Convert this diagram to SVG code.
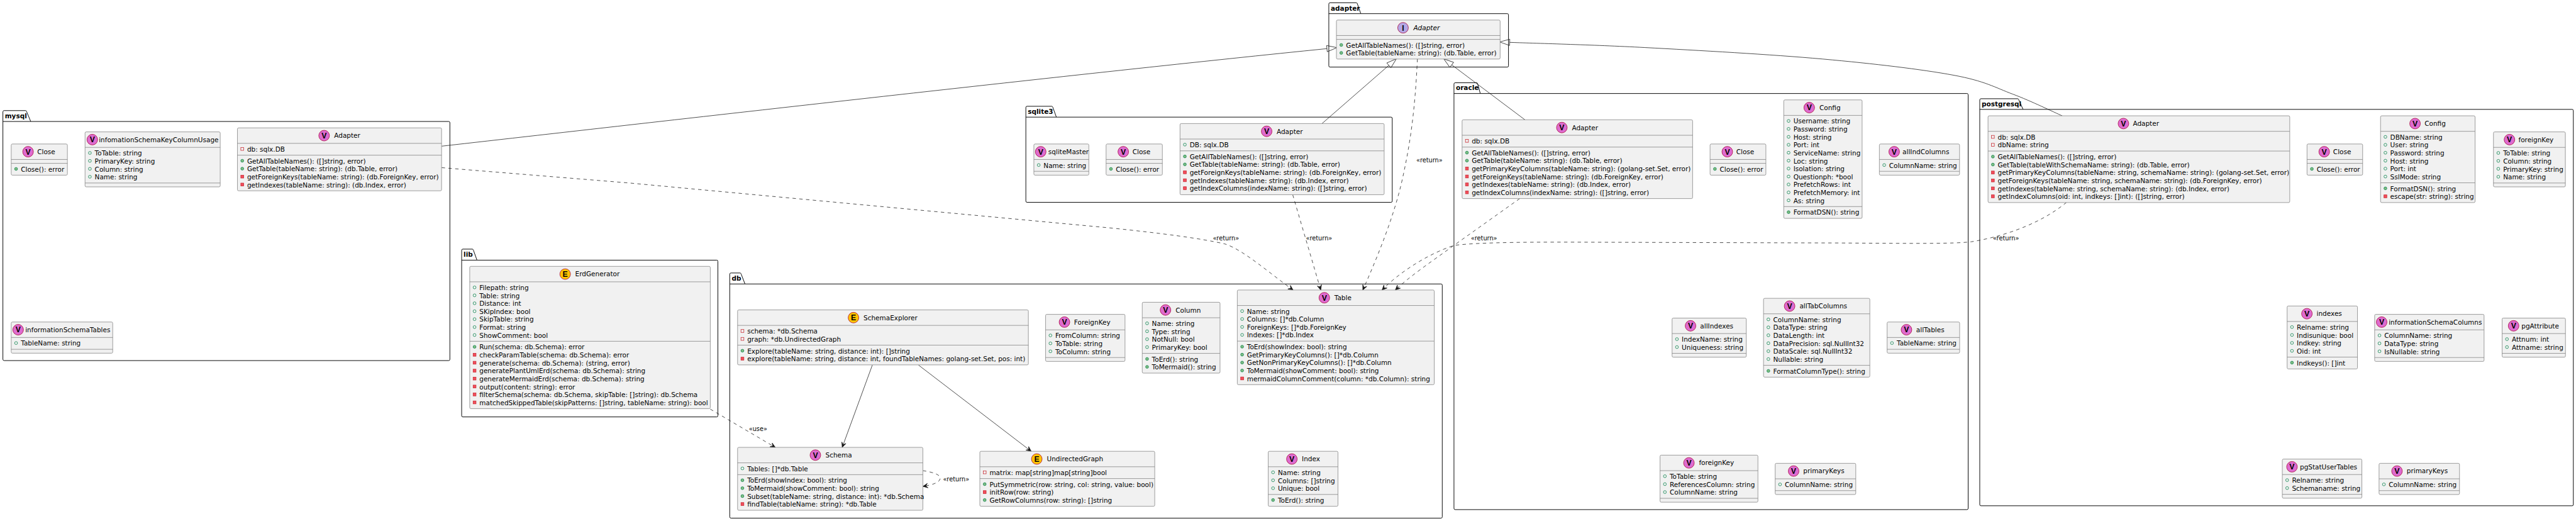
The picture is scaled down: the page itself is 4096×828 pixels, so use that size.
<svg xmlns="http://www.w3.org/2000/svg" width="4096" height="828" viewBox="0 0 4096 828">
<style>
text{font-family:"DejaVu Sans",sans-serif;font-size:13.65px;fill:#000}
.pk{fill:none;stroke:#000;stroke-width:1.25}
.pl{font-weight:bold}
.bx{fill:#F1F1F1;stroke:#808080;stroke-width:1}
.sp{stroke:#808080;stroke-width:1}
.cv,.ce,.ci{stroke:#A80036;stroke-width:1}
.cv{fill:#DE6BD0}.ce{fill:#FFC400}.ci{fill:#B4A7E5}
text.lt{font-family:"Liberation Sans",sans-serif;font-size:16px;font-weight:bold;text-anchor:middle}
.it{font-style:italic}
text.lb{font-size:12.7px}
.so,.da{fill:none;stroke:#181818;stroke-width:1}
.da{stroke-dasharray:7,7}
.ar{marker-end:url(#open)}
.ex{marker-end:url(#tri)}
</style>
<defs>
<marker id="open" markerUnits="userSpaceOnUse" markerWidth="24" markerHeight="24" refX="12" refY="12" orient="auto" viewBox="0 0 24 24"><path d="M12,12 L2,7.5 L6,12 L2,16.5 Z" fill="#181818" stroke="#181818" stroke-width="1"/></marker>
<marker id="tri" markerUnits="userSpaceOnUse" markerWidth="26" markerHeight="20" refX="2" refY="10" orient="auto" viewBox="0 0 26 20"><path d="M2,3.5 L22.7,10 L2,16.5 Z" fill="none" stroke="#181818" stroke-width="1"/></marker>
<circle id="fu" r="3" fill="none" stroke="#038048"/>
<circle id="mu" r="3" fill="#84BE84" stroke="#038048"/>
<rect id="fr" x="-3" y="-3" width="6" height="6" fill="none" stroke="#C82930"/>
<rect id="mr" x="-3" y="-3" width="6" height="6" fill="#F24D5C" stroke="#C82930"/>
</defs>
<g transform="scale(0.7692)">
<g id="packages">
<g id="pkg-mysql"><path class="pk" d="M6,231 a2.5,2.5 0 0 1 2.5,-2.5 H53 a2.5,2.5 0 0 1 2,2 L63.5,251 H927.5 a2.5,2.5 0 0 1 2.5,2.5 V742.5 a2.5,2.5 0 0 1 -2.5,2.5 H8.5 a2.5,2.5 0 0 1 -2.5,-2.5 Z M6,251 H63.5"/><text class="pl" x="10" y="244.3">mysql</text></g>
<g id="pkg-lib"><path class="pk" d="M954.3,517.2 a2.5,2.5 0 0 1 2.5,-2.5 H976.5 a2.5,2.5 0 0 1 2,2 L986,537.5 H1481.5 a2.5,2.5 0 0 1 2.5,2.5 V858.9 a2.5,2.5 0 0 1 -2.5,2.5 H956.8 a2.5,2.5 0 0 1 -2.5,-2.5 Z M954.3,537.5 H986"/><text class="pl" x="958.3" y="530.8">lib</text></g>
<g id="pkg-db"><path class="pk" d="M1508.5,566.5 a2.5,2.5 0 0 1 2.5,-2.5 H1530 a2.5,2.5 0 0 1 2,2 L1540,586.7 H2978.9 a2.5,2.5 0 0 1 2.5,2.5 V1068 a2.5,2.5 0 0 1 -2.5,2.5 H1511 a2.5,2.5 0 0 1 -2.5,-2.5 Z M1508.5,586.7 H1540"/><text class="pl" x="1512.5" y="580">db</text></g>
<g id="pkg-sqlite3"><path class="pk" d="M2120.6,222.1 a2.5,2.5 0 0 1 2.5,-2.5 H2174.3 a2.5,2.5 0 0 1 2,2 L2183.7,242 H2875.5 a2.5,2.5 0 0 1 2.5,2.5 V415.5 a2.5,2.5 0 0 1 -2.5,2.5 H2123.1 a2.5,2.5 0 0 1 -2.5,-2.5 Z M2120.6,242 H2183.7"/><text class="pl" x="2124.6" y="235.3">sqlite3</text></g>
<g id="pkg-adapter"><path class="pk" d="M2746.9,8.2 a2.5,2.5 0 0 1 2.5,-2.5 H2803.8 a2.5,2.5 0 0 1 2,2 L2813,28.2 H3115.8 a2.5,2.5 0 0 1 2.5,2.5 V136.1 a2.5,2.5 0 0 1 -2.5,2.5 H2749.4 a2.5,2.5 0 0 1 -2.5,-2.5 Z M2746.9,28.2 H2813"/><text class="pl" x="2750.9" y="21.5">adapter</text></g>
<g id="pkg-oracle"><path class="pk" d="M3005.6,173.5 a2.5,2.5 0 0 1 2.5,-2.5 H3052.5 a2.5,2.5 0 0 1 2,2 L3060,193.2 H4066 a2.5,2.5 0 0 1 2.5,2.5 V1050.4 a2.5,2.5 0 0 1 -2.5,2.5 H3008.1 a2.5,2.5 0 0 1 -2.5,-2.5 Z M3005.6,193.2 H3060"/><text class="pl" x="3009.6" y="186.5">oracle</text></g>
<g id="pkg-postgresql"><path class="pk" d="M4092.5,206.5 a2.5,2.5 0 0 1 2.5,-2.5 H4171 a2.5,2.5 0 0 1 2,2 L4182,226 H5317 a2.5,2.5 0 0 1 2.5,2.5 V1042.5 a2.5,2.5 0 0 1 -2.5,2.5 H4095 a2.5,2.5 0 0 1 -2.5,-2.5 Z M4092.5,226 H4182"/><text class="pl" x="4096.5" y="219.3">postgresql</text></g>
</g>
<g id="connectors">
<path class="so ex" d="M913,302 C1400,247 2250,150 2743,100.5"/>
<path class="so ex" d="M2732.8,255.3 L2871,135"/>
<path class="so ex" d="M3152.3,247.5 L3001,134"/>
<path class="so ex" d="M4263,239.3 C4246,232 4198.5,208.6 4161,194.6 C4123.5,180.6 4103.5,167.4 4038,155.3 C3972.5,143.2 3874,131.5 3768,122 C3662,112.5 3508,104 3400,98.2 C3292,92.5 3167,89.3 3120.8,87.5"/>
<path class="da ar" d="M913,346.4 L1300,378 L2300,471.4 C2400,482 2480,492 2532,504 C2570,516 2625,565 2673,599.2"/>
<path class="da ar" d="M2672.3,402.5 L2730.2,599.2"/>
<path class="da ar" d="M2930,121.4 C2925,230 2915,300 2897,378.5 C2880,450 2850,525 2817.2,599.2"/>
<path class="da ar" d="M3141.5,410.3 L3004,508 C2960,540 2915,570 2884.4,599.2"/>
<path class="da ar" d="M4271.7,418.2 C4215,465 4135,490 4075,499.5 C4040,504 3950,503 3800,502 L3300,500.5 C3180,500 3060,500 3006,507 C2950,525 2890,565 2857,599.2"/>
<path class="so ar" d="M1803.3,754.2 L1741,924.3"/>
<path class="so ar" d="M1898.6,754.2 L2131.6,932.4"/>
<path class="da ar" d="M1468.3,845.3 L1602.6,924.3"/>
<path class="da ar" d="M1907.8,972.4 C1925,975 1945,980 1943.5,988.6 C1942,998 1925,1002 1907.8,1005"/>
<text class="lb" x="2507" y="496.5">«return»</text>
<text class="lb" x="2699.6" y="496.5">«return»</text>
<text class="lb" x="2927.7" y="335">«return»</text>
<text class="lb" x="3040.6" y="496.5">«return»</text>
<text class="lb" x="4119.4" y="496.5">«return»</text>
<text class="lb" x="1548" y="891">«use»</text>
<text class="lb" x="1949.3" y="994.5">«return»</text>
</g>

<g id="mysql-close" transform="translate(23.2,297.5)"><rect class="bx" width="116.1" height="64.4" rx="2.5"/><path class="sp" d="M0,32 H116.1 M0,40 H116.1"/><circle class="cv" cx="34.8" cy="16" r="11"/><text class="lt" x="34.8" y="21.7">V</text><text x="53.8" y="21">Close</text><g transform="translate(0,40)"><use href="#mu" x="10" y="11.5"/><text x="20" y="17">Close(): error</text></g></g>

<g id="mysql-keycolumnusage" transform="translate(175.8,272.5)"><rect class="bx" width="279.4" height="113.6" rx="2.5"/><path class="sp" d="M0,32 H279.4 M0,105.6 H279.4"/><circle class="cv" cx="15" cy="16" r="11"/><text class="lt" x="15" y="21.7">V</text><text x="28.5" y="21">infomationSchemaKeyColumnUsage</text><g transform="translate(0,32)"><use href="#fu" x="10" y="11.5"/><text x="20" y="17">ToTable: string</text><use href="#fu" x="10" y="27.9"/><text x="20" y="33.4">PrimaryKey: string</text><use href="#fu" x="10" y="44.3"/><text x="20" y="49.8">Column: string</text><use href="#fu" x="10" y="60.7"/><text x="20" y="66.2">Name: string</text></g></g>

<g id="mysql-adapter" transform="translate(490.8,264.2)"><rect class="bx" width="422" height="130" rx="2.5"/><path class="sp" d="M0,32 H422 M0,56.4 H422"/><circle class="cv" cx="179.2" cy="16" r="11"/><text class="lt" x="179.2" y="21.7">V</text><text x="199.9" y="21">Adapter</text><g transform="translate(0,32)"><use href="#fr" x="10" y="11.5"/><text x="20" y="17">db: sqlx.DB</text></g><g transform="translate(0,56.4)"><use href="#mu" x="10" y="11.5"/><text x="20" y="17">GetAllTableNames(): ([]string, error)</text><use href="#mu" x="10" y="27.9"/><text x="20" y="33.4">GetTable(tableName: string): (db.Table, error)</text><use href="#mr" x="10" y="44.3"/><text x="20" y="49.8">getForeignKeys(tableName: string): (db.ForeignKey, error)</text><use href="#mr" x="10" y="60.7"/><text x="20" y="66.2">getIndexes(tableName: string): (db.Index, error)</text></g></g>

<g id="mysql-tables" transform="translate(23.2,665.3)"><rect class="bx" width="209.8" height="64.4" rx="2.5"/><path class="sp" d="M0,32 H209.8 M0,56.4 H209.8"/><circle class="cv" cx="14.3" cy="16" r="11"/><text class="lt" x="14.3" y="21.7">V</text><text x="29" y="21">informationSchemaTables</text><g transform="translate(0,32)"><use href="#fu" x="10" y="11.5"/><text x="20" y="17">TableName: string</text></g></g>

<g id="lib-erdgenerator" transform="translate(971,550.3)"><rect class="bx" width="497.3" height="294" rx="2.5"/><path class="sp" d="M0,32 H497.3 M0,154.8 H497.3"/><circle class="ce" cx="197.3" cy="16" r="11"/><text class="lt" x="197.3" y="21.7">E</text><text x="218" y="21">ErdGenerator</text><g transform="translate(0,32)"><use href="#fu" x="10" y="11.5"/><text x="20" y="17">Filepath: string</text><use href="#fu" x="10" y="27.9"/><text x="20" y="33.4">Table: string</text><use href="#fu" x="10" y="44.3"/><text x="20" y="49.8">Distance: int</text><use href="#fu" x="10" y="60.7"/><text x="20" y="66.2">SKipIndex: bool</text><use href="#fu" x="10" y="77.1"/><text x="20" y="82.6">SkipTable: string</text><use href="#fu" x="10" y="93.5"/><text x="20" y="99">Format: string</text><use href="#fu" x="10" y="109.9"/><text x="20" y="115.4">ShowComment: bool</text></g><g transform="translate(0,154.8)"><use href="#mu" x="10" y="11.5"/><text x="20" y="17">Run(schema: db.Schema): error</text><use href="#mr" x="10" y="27.9"/><text x="20" y="33.4">checkParamTable(schema: db.Schema): error</text><use href="#mr" x="10" y="44.3"/><text x="20" y="49.8">generate(schema: db.Schema): (string, error)</text><use href="#mr" x="10" y="60.7"/><text x="20" y="66.2">generatePlantUmlErd(schema: db.Schema): string</text><use href="#mr" x="10" y="77.1"/><text x="20" y="82.6">generateMermaidErd(schema: db.Schema): string</text><use href="#mr" x="10" y="93.5"/><text x="20" y="99">output(content: string): error</text><use href="#mr" x="10" y="109.9"/><text x="20" y="115.4">filterSchema(schema: db.Schema, skipTable: []string): db.Schema</text><use href="#mr" x="10" y="126.3"/><text x="20" y="131.8">matchedSkippedTable(skipPatterns: []string, tableName: string): bool</text></g></g>

<g id="db-schemaexplorer" transform="translate(1524.7,640.3)"><rect class="bx" width="601.1" height="113.6" rx="2.5"/><path class="sp" d="M0,32 H601.1 M0,72.8 H601.1"/><circle class="ce" cx="239.6" cy="16" r="11"/><text class="lt" x="239.6" y="21.7">E</text><text x="260.3" y="21">SchemaExplorer</text><g transform="translate(0,32)"><use href="#fr" x="10" y="11.5"/><text x="20" y="17">schema: *db.Schema</text><use href="#fr" x="10" y="27.9"/><text x="20" y="33.4">graph: *db.UndirectedGraph</text></g><g transform="translate(0,72.8)"><use href="#mu" x="10" y="11.5"/><text x="20" y="17">Explore(tableName: string, distance: int): []string</text><use href="#mr" x="10" y="27.9"/><text x="20" y="33.4">explore(tableName: string, distance: int, foundTableNames: golang-set.Set, pos: int)</text></g></g>

<g id="db-foreignkey" transform="translate(2161.4,649.5)"><rect class="bx" width="164.2" height="97.2" rx="2.5"/><path class="sp" d="M0,32 H164.2 M0,89.2 H164.2"/><circle class="cv" cx="39" cy="16" r="11"/><text class="lt" x="39" y="21.7">V</text><text x="58.9" y="21">ForeignKey</text><g transform="translate(0,32)"><use href="#fu" x="10" y="11.5"/><text x="20" y="17">FromColumn: string</text><use href="#fu" x="10" y="27.9"/><text x="20" y="33.4">ToTable: string</text><use href="#fu" x="10" y="44.3"/><text x="20" y="49.8">ToColumn: string</text></g></g>

<g id="db-column" transform="translate(2361.2,624.5)"><rect class="bx" width="160.8" height="146.4" rx="2.5"/><path class="sp" d="M0,32 H160.8 M0,105.6 H160.8"/><circle class="cv" cx="48.1" cy="16" r="11"/><text class="lt" x="48.1" y="21.7">V</text><text x="68.8" y="21">Column</text><g transform="translate(0,32)"><use href="#fu" x="10" y="11.5"/><text x="20" y="17">Name: string</text><use href="#fu" x="10" y="27.9"/><text x="20" y="33.4">Type: string</text><use href="#fu" x="10" y="44.3"/><text x="20" y="49.8">NotNull: bool</text><use href="#fu" x="10" y="60.7"/><text x="20" y="66.2">PrimaryKey: bool</text></g><g transform="translate(0,105.6)"><use href="#mu" x="10" y="11.5"/><text x="20" y="17">ToErd(): string</text><use href="#mu" x="10" y="27.9"/><text x="20" y="33.4">ToMermaid(): string</text></g></g>

<g id="db-table" transform="translate(2557.7,599.2)"><rect class="bx" width="407.1" height="195.6" rx="2.5"/><path class="sp" d="M0,32 H407.1 M0,105.6 H407.1"/><circle class="cv" cx="179.9" cy="16" r="11"/><text class="lt" x="179.9" y="21.7">V</text><text x="200.7" y="21">Table</text><g transform="translate(0,32)"><use href="#fu" x="10" y="11.5"/><text x="20" y="17">Name: string</text><use href="#fu" x="10" y="27.9"/><text x="20" y="33.4">Columns: []*db.Column</text><use href="#fu" x="10" y="44.3"/><text x="20" y="49.8">ForeignKeys: []*db.ForeignKey</text><use href="#fu" x="10" y="60.7"/><text x="20" y="66.2">Indexes: []*db.Index</text></g><g transform="translate(0,105.6)"><use href="#mu" x="10" y="11.5"/><text x="20" y="17">ToErd(showIndex: bool): string</text><use href="#mu" x="10" y="27.9"/><text x="20" y="33.4">GetPrimaryKeyColumns(): []*db.Column</text><use href="#mu" x="10" y="44.3"/><text x="20" y="49.8">GetNonPrimaryKeyColumns(): []*db.Column</text><use href="#mu" x="10" y="60.7"/><text x="20" y="66.2">ToMermaid(showComment: bool): string</text><use href="#mr" x="10" y="77.1"/><text x="20" y="82.6">mermaidColumnComment(column: *db.Column): string</text></g></g>

<g id="db-schema" transform="translate(1524.7,924.3)"><rect class="bx" width="383" height="130" rx="2.5"/><path class="sp" d="M0,32 H383 M0,56.4 H383"/><circle class="cv" cx="160.8" cy="16" r="11"/><text class="lt" x="160.8" y="21.7">V</text><text x="181.6" y="21">Schema</text><g transform="translate(0,32)"><use href="#fu" x="10" y="11.5"/><text x="20" y="17">Tables: []*db.Table</text></g><g transform="translate(0,56.4)"><use href="#mu" x="10" y="11.5"/><text x="20" y="17">ToErd(showIndex: bool): string</text><use href="#mu" x="10" y="27.9"/><text x="20" y="33.4">ToMermaid(showComment: bool): string</text><use href="#mu" x="10" y="44.3"/><text x="20" y="49.8">Subset(tableName: string, distance: int): *db.Schema</text><use href="#mr" x="10" y="60.7"/><text x="20" y="66.2">findTable(tableName: string): *db.Table</text></g></g>

<g id="db-undirectedgraph" transform="translate(2025.5,932.4)"><rect class="bx" width="361.5" height="113.6" rx="2.5"/><path class="sp" d="M0,32 H361.5 M0,56.4 H361.5"/><circle class="ce" cx="117.7" cy="16" r="11"/><text class="lt" x="117.7" y="21.7">E</text><text x="138.5" y="21">UndirectedGraph</text><g transform="translate(0,32)"><use href="#fr" x="10" y="11.5"/><text x="20" y="17">matrix: map[string]map[string]bool</text></g><g transform="translate(0,56.4)"><use href="#mu" x="10" y="11.5"/><text x="20" y="17">PutSymmetric(row: string, col: string, value: bool)</text><use href="#mr" x="10" y="27.9"/><text x="20" y="33.4">initRow(row: string)</text><use href="#mu" x="10" y="44.3"/><text x="20" y="49.8">GetRowColumns(row: string): []string</text></g></g>

<g id="db-index" transform="translate(2621.6,932.4)"><rect class="bx" width="144.2" height="113.6" rx="2.5"/><path class="sp" d="M0,32 H144.2 M0,89.2 H144.2"/><circle class="cv" cx="48.9" cy="16" r="11"/><text class="lt" x="48.9" y="21.7">V</text><text x="69.6" y="21">Index</text><g transform="translate(0,32)"><use href="#fu" x="10" y="11.5"/><text x="20" y="17">Name: string</text><use href="#fu" x="10" y="27.9"/><text x="20" y="33.4">Columns: []string</text><use href="#fu" x="10" y="44.3"/><text x="20" y="49.8">Unique: bool</text></g><g transform="translate(0,89.2)"><use href="#mu" x="10" y="11.5"/><text x="20" y="17">ToErd(): string</text></g></g>

<g id="sqlite-master" transform="translate(2137.2,297.5)"><rect class="bx" width="113.6" height="64.4" rx="2.5"/><path class="sp" d="M0,32 H113.6 M0,56.4 H113.6"/><circle class="cv" cx="14.1" cy="16" r="11"/><text class="lt" x="14.1" y="21.7">V</text><text x="29.8" y="21">sqliteMaster</text><g transform="translate(0,32)"><use href="#fu" x="10" y="11.5"/><text x="20" y="17">Name: string</text></g></g>

<g id="sqlite-close" transform="translate(2286.5,297.5)"><rect class="bx" width="116.3" height="64.4" rx="2.5"/><path class="sp" d="M0,32 H116.3 M0,40 H116.3"/><circle class="cv" cx="35.5" cy="16" r="11"/><text class="lt" x="35.5" y="21.7">V</text><text x="54.5" y="21">Close</text><g transform="translate(0,40)"><use href="#mu" x="10" y="11.5"/><text x="20" y="17">Close(): error</text></g></g>

<g id="sqlite-adapter" transform="translate(2439.3,255.3)"><rect class="bx" width="422" height="147" rx="2.5"/><path class="sp" d="M0,32 H422 M0,56.4 H422"/><circle class="cv" cx="179.1" cy="16" r="11"/><text class="lt" x="179.1" y="21.7">V</text><text x="199.7" y="21">Adapter</text><g transform="translate(0,32)"><use href="#fu" x="10" y="11.5"/><text x="20" y="17">DB: sqlx.DB</text></g><g transform="translate(0,56.4)"><use href="#mu" x="10" y="11.5"/><text x="20" y="17">GetAllTableNames(): ([]string, error)</text><use href="#mu" x="10" y="27.9"/><text x="20" y="33.4">GetTable(tableName: string): (db.Table, error)</text><use href="#mr" x="10" y="44.3"/><text x="20" y="49.8">getForeignKeys(tableName: string): (db.ForeignKey, error)</text><use href="#mr" x="10" y="60.7"/><text x="20" y="66.2">getIndexes(tableName: string): (db.Index, error)</text><use href="#mr" x="10" y="77.1"/><text x="20" y="82.6">getIndexColumns(indexName: string): ([]string, error)</text></g></g>

<g id="adapter-interface" transform="translate(2762.6,41.4)"><rect class="bx" width="338.4" height="80.6" rx="2.5"/><path class="sp" d="M0,32 H338.4 M0,40 H338.4"/><circle class="ci" cx="137.7" cy="16" r="11"/><text class="lt" x="137.7" y="21.7">I</text><text class="it" x="159.2" y="21">Adapter</text><g transform="translate(0,40)"><use href="#mu" x="10" y="11.5"/><text x="20" y="17">GetAllTableNames(): ([]string, error)</text><use href="#mu" x="10" y="27.9"/><text x="20" y="33.4">GetTable(tableName: string): (db.Table, error)</text></g></g>

<g id="oracle-adapter" transform="translate(3022.4,247.5)"><rect class="bx" width="476.5" height="162.8" rx="2.5"/><path class="sp" d="M0,32 H476.5 M0,56.4 H476.5"/><circle class="cv" cx="206.2" cy="16" r="11"/><text class="lt" x="206.2" y="21.7">V</text><text x="227" y="21">Adapter</text><g transform="translate(0,32)"><use href="#fr" x="10" y="11.5"/><text x="20" y="17">db: sqlx.DB</text></g><g transform="translate(0,56.4)"><use href="#mu" x="10" y="11.5"/><text x="20" y="17">GetAllTableNames(): ([]string, error)</text><use href="#mu" x="10" y="27.9"/><text x="20" y="33.4">GetTable(tableName: string): (db.Table, error)</text><use href="#mr" x="10" y="44.3"/><text x="20" y="49.8">getPrimaryKeyColumns(tableName: string): (golang-set.Set, error)</text><use href="#mr" x="10" y="60.7"/><text x="20" y="66.2">getForeignKeys(tableName: string): (db.ForeignKey, error)</text><use href="#mr" x="10" y="77.1"/><text x="20" y="82.6">getIndexes(tableName: string): (db.Index, error)</text><use href="#mr" x="10" y="93.5"/><text x="20" y="99">getIndexColumns(indexName: string): ([]string, error)</text></g></g>

<g id="oracle-close" transform="translate(3535,297.5)"><rect class="bx" width="115.4" height="64.4" rx="2.5"/><path class="sp" d="M0,32 H115.4 M0,40 H115.4"/><circle class="cv" cx="35.6" cy="16" r="11"/><text class="lt" x="35.6" y="21.7">V</text><text x="54" y="21">Close</text><g transform="translate(0,40)"><use href="#mu" x="10" y="11.5"/><text x="20" y="17">Close(): error</text></g></g>

<g id="oracle-config" transform="translate(3687.3,206.4)"><rect class="bx" width="162" height="244.8" rx="2.5"/><path class="sp" d="M0,32 H162 M0,220.4 H162"/><circle class="cv" cx="52.7" cy="16" r="11"/><text class="lt" x="52.7" y="21.7">V</text><text x="73.7" y="21">Config</text><g transform="translate(0,32)"><use href="#fu" x="10" y="11.5"/><text x="20" y="17">Username: string</text><use href="#fu" x="10" y="27.9"/><text x="20" y="33.4">Password: string</text><use href="#fu" x="10" y="44.3"/><text x="20" y="49.8">Host: string</text><use href="#fu" x="10" y="60.7"/><text x="20" y="66.2">Port: int</text><use href="#fu" x="10" y="77.1"/><text x="20" y="82.6">ServiceName: string</text><use href="#fu" x="10" y="93.5"/><text x="20" y="99">Loc: string</text><use href="#fu" x="10" y="109.9"/><text x="20" y="115.4">Isolation: string</text><use href="#fu" x="10" y="126.3"/><text x="20" y="131.8">Questionph: *bool</text><use href="#fu" x="10" y="142.7"/><text x="20" y="148.2">PrefetchRows: int</text><use href="#fu" x="10" y="159.1"/><text x="20" y="164.6">PrefetchMemory: int</text><use href="#fu" x="10" y="175.5"/><text x="20" y="181">As: string</text></g><g transform="translate(0,220.4)"><use href="#mu" x="10" y="11.5"/><text x="20" y="17">FormatDSN(): string</text></g></g>

<g id="oracle-allindcolumns" transform="translate(3885,297.5)"><rect class="bx" width="165.7" height="64.4" rx="2.5"/><path class="sp" d="M0,32 H165.7 M0,56.4 H165.7"/><circle class="cv" cx="30.6" cy="16" r="11"/><text class="lt" x="30.6" y="21.7">V</text><text x="47.8" y="21">allIndColumns</text><g transform="translate(0,32)"><use href="#fu" x="10" y="11.5"/><text x="20" y="17">ColumnName: string</text></g></g>

<g id="oracle-allindexes" transform="translate(3456.5,657.2)"><rect class="bx" width="153.3" height="80.8" rx="2.5"/><path class="sp" d="M0,32 H153.3 M0,72.8 H153.3"/><circle class="cv" cx="38.1" cy="16" r="11"/><text class="lt" x="38.1" y="21.7">V</text><text x="58" y="21">allIndexes</text><g transform="translate(0,32)"><use href="#fu" x="10" y="11.5"/><text x="20" y="17">IndexName: string</text><use href="#fu" x="10" y="27.9"/><text x="20" y="33.4">Uniqueness: string</text></g></g>

<g id="oracle-alltabcolumns" transform="translate(3645.5,616.4)"><rect class="bx" width="219.7" height="162.8" rx="2.5"/><path class="sp" d="M0,32 H219.7 M0,138.4 H219.7"/><circle class="cv" cx="53.9" cy="16" r="11"/><text class="lt" x="53.9" y="21.7">V</text><text x="74.5" y="21">allTabColumns</text><g transform="translate(0,32)"><use href="#fu" x="10" y="11.5"/><text x="20" y="17">ColumnName: string</text><use href="#fu" x="10" y="27.9"/><text x="20" y="33.4">DataType: string</text><use href="#fu" x="10" y="44.3"/><text x="20" y="49.8">DataLength: int</text><use href="#fu" x="10" y="60.7"/><text x="20" y="66.2">DataPrecision: sql.NullInt32</text><use href="#fu" x="10" y="77.1"/><text x="20" y="82.6">DataScale: sql.NullInt32</text><use href="#fu" x="10" y="93.5"/><text x="20" y="99">Nullable: string</text></g><g transform="translate(0,138.4)"><use href="#mu" x="10" y="11.5"/><text x="20" y="17">FormatColumnType(): string</text></g></g>

<g id="oracle-alltables" transform="translate(3901,665.3)"><rect class="bx" width="149.9" height="64.4" rx="2.5"/><path class="sp" d="M0,32 H149.9 M0,56.4 H149.9"/><circle class="cv" cx="40" cy="16" r="11"/><text class="lt" x="40" y="21.7">V</text><text x="60" y="21">allTables</text><g transform="translate(0,32)"><use href="#fu" x="10" y="11.5"/><text x="20" y="17">TableName: string</text></g></g>

<g id="oracle-foreignkey" transform="translate(3431.6,940.4)"><rect class="bx" width="202.3" height="97.2" rx="2.5"/><path class="sp" d="M0,32 H202.3 M0,89.2 H202.3"/><circle class="cv" cx="59.7" cy="16" r="11"/><text class="lt" x="59.7" y="21.7">V</text><text x="80.4" y="21">foreignKey</text><g transform="translate(0,32)"><use href="#fu" x="10" y="11.5"/><text x="20" y="17">ToTable: string</text><use href="#fu" x="10" y="27.9"/><text x="20" y="33.4">ReferencesColumn: string</text><use href="#fu" x="10" y="44.3"/><text x="20" y="49.8">ColumnName: string</text></g></g>

<g id="oracle-primarykeys" transform="translate(3669.6,957.3)"><rect class="bx" width="166.6" height="64.4" rx="2.5"/><path class="sp" d="M0,32 H166.6 M0,56.4 H166.6"/><circle class="cv" cx="38.1" cy="16" r="11"/><text class="lt" x="38.1" y="21.7">V</text><text x="58" y="21">primaryKeys</text><g transform="translate(0,32)"><use href="#fu" x="10" y="11.5"/><text x="20" y="17">ColumnName: string</text></g></g>

<g id="pg-adapter" transform="translate(4109.6,239.3)"><rect class="bx" width="623.7" height="179.2" rx="2.5"/><path class="sp" d="M0,32 H623.7 M0,72.8 H623.7"/><circle class="cv" cx="279.9" cy="16" r="11"/><text class="lt" x="279.9" y="21.7">V</text><text x="299.4" y="21">Adapter</text><g transform="translate(0,32)"><use href="#fr" x="10" y="11.5"/><text x="20" y="17">db: sqlx.DB</text><use href="#fr" x="10" y="27.9"/><text x="20" y="33.4">dbName: string</text></g><g transform="translate(0,72.8)"><use href="#mu" x="10" y="11.5"/><text x="20" y="17">GetAllTableNames(): ([]string, error)</text><use href="#mu" x="10" y="27.9"/><text x="20" y="33.4">GetTable(tableWithSchemaName: string): (db.Table, error)</text><use href="#mr" x="10" y="44.3"/><text x="20" y="49.8">getPrimaryKeyColumns(tableName: string, schemaName: string): (golang-set.Set, error)</text><use href="#mr" x="10" y="60.7"/><text x="20" y="66.2">getForeignKeys(tableName: string, schemaName: string): (db.ForeignKey, error)</text><use href="#mr" x="10" y="77.1"/><text x="20" y="82.6">getIndexes(tableName: string, schemaName: string): (db.Index, error)</text><use href="#mr" x="10" y="93.5"/><text x="20" y="99">getIndexColumns(oid: int, indkeys: []int): ([]string, error)</text></g></g>

<g id="pg-close" transform="translate(4769,297.5)"><rect class="bx" width="115" height="64.4" rx="2.5"/><path class="sp" d="M0,32 H115 M0,40 H115"/><circle class="cv" cx="35.5" cy="16" r="11"/><text class="lt" x="35.5" y="21.7">V</text><text x="54" y="21">Close</text><g transform="translate(0,40)"><use href="#mu" x="10" y="11.5"/><text x="20" y="17">Close(): error</text></g></g>

<g id="pg-config" transform="translate(4921,239.3)"><rect class="bx" width="195.4" height="179.2" rx="2.5"/><path class="sp" d="M0,32 H195.4 M0,138.4 H195.4"/><circle class="cv" cx="71.3" cy="16" r="11"/><text class="lt" x="71.3" y="21.7">V</text><text x="91" y="21">Config</text><g transform="translate(0,32)"><use href="#fu" x="10" y="11.5"/><text x="20" y="17">DBName: string</text><use href="#fu" x="10" y="27.9"/><text x="20" y="33.4">User: string</text><use href="#fu" x="10" y="44.3"/><text x="20" y="49.8">Password: string</text><use href="#fu" x="10" y="60.7"/><text x="20" y="66.2">Host: string</text><use href="#fu" x="10" y="77.1"/><text x="20" y="82.6">Port: int</text><use href="#fu" x="10" y="93.5"/><text x="20" y="99">SslMode: string</text></g><g transform="translate(0,138.4)"><use href="#mu" x="10" y="11.5"/><text x="20" y="17">FormatDSN(): string</text><use href="#mr" x="10" y="27.9"/><text x="20" y="33.4">escape(str: string): string</text></g></g>

<g id="pg-foreignkey" transform="translate(5154.4,272.5)"><rect class="bx" width="148.6" height="113.6" rx="2.5"/><path class="sp" d="M0,32 H148.6 M0,105.6 H148.6"/><circle class="cv" cx="33.1" cy="16" r="11"/><text class="lt" x="33.1" y="21.7">V</text><text x="51.6" y="21">foreignKey</text><g transform="translate(0,32)"><use href="#fu" x="10" y="11.5"/><text x="20" y="17">ToTable: string</text><use href="#fu" x="10" y="27.9"/><text x="20" y="33.4">Column: string</text><use href="#fu" x="10" y="44.3"/><text x="20" y="49.8">PrimaryKey: string</text><use href="#fu" x="10" y="60.7"/><text x="20" y="66.2">Name: string</text></g></g>

<g id="pg-indexes" transform="translate(4727.9,632.2)"><rect class="bx" width="145.4" height="130" rx="2.5"/><path class="sp" d="M0,32 H145.4 M0,105.6 H145.4"/><circle class="cv" cx="40.9" cy="16" r="11"/><text class="lt" x="40.9" y="21.7">V</text><text x="60.9" y="21">indexes</text><g transform="translate(0,32)"><use href="#fu" x="10" y="11.5"/><text x="20" y="17">Relname: string</text><use href="#fu" x="10" y="27.9"/><text x="20" y="33.4">Indisunique: bool</text><use href="#fu" x="10" y="44.3"/><text x="20" y="49.8">Indkey: string</text><use href="#fu" x="10" y="60.7"/><text x="20" y="66.2">Oid: int</text></g><g transform="translate(0,105.6)"><use href="#mu" x="10" y="11.5"/><text x="20" y="17">Indkeys(): []int</text></g></g>

<g id="pg-infocolumns" transform="translate(4908.8,649.5)"><rect class="bx" width="226.2" height="97.2" rx="2.5"/><path class="sp" d="M0,32 H226.2 M0,89.2 H226.2"/><circle class="cv" cx="14.5" cy="16" r="11"/><text class="lt" x="14.5" y="21.7">V</text><text x="29" y="21">informationSchemaColumns</text><g transform="translate(0,32)"><use href="#fu" x="10" y="11.5"/><text x="20" y="17">ColumnName: string</text><use href="#fu" x="10" y="27.9"/><text x="20" y="33.4">DataType: string</text><use href="#fu" x="10" y="44.3"/><text x="20" y="49.8">IsNullable: string</text></g></g>

<g id="pg-attribute" transform="translate(5172.3,657.2)"><rect class="bx" width="130.9" height="80.8" rx="2.5"/><path class="sp" d="M0,32 H130.9 M0,72.8 H130.9"/><circle class="cv" cx="23.7" cy="16" r="11"/><text class="lt" x="23.7" y="21.7">V</text><text x="40" y="21">pgAttribute</text><g transform="translate(0,32)"><use href="#fu" x="10" y="11.5"/><text x="20" y="17">Attnum: int</text><use href="#fu" x="10" y="27.9"/><text x="20" y="33.4">Attname: string</text></g></g>

<g id="pg-statusertables" transform="translate(4717.9,948.5)"><rect class="bx" width="164.5" height="80.8" rx="2.5"/><path class="sp" d="M0,32 H164.5 M0,72.8 H164.5"/><circle class="cv" cx="20" cy="16" r="11"/><text class="lt" x="20" y="21.7">V</text><text x="36.4" y="21">pgStatUserTables</text><g transform="translate(0,32)"><use href="#fu" x="10" y="11.5"/><text x="20" y="17">Relname: string</text><use href="#fu" x="10" y="27.9"/><text x="20" y="33.4">Schemaname: string</text></g></g>

<g id="pg-primarykeys" transform="translate(4917.9,957.3)"><rect class="bx" width="166.3" height="64.4" rx="2.5"/><path class="sp" d="M0,32 H166.3 M0,56.4 H166.3"/><circle class="cv" cx="37.1" cy="16" r="11"/><text class="lt" x="37.1" y="21.7">V</text><text x="57.1" y="21">primaryKeys</text><g transform="translate(0,32)"><use href="#fu" x="10" y="11.5"/><text x="20" y="17">ColumnName: string</text></g></g>
</g>
</svg>
